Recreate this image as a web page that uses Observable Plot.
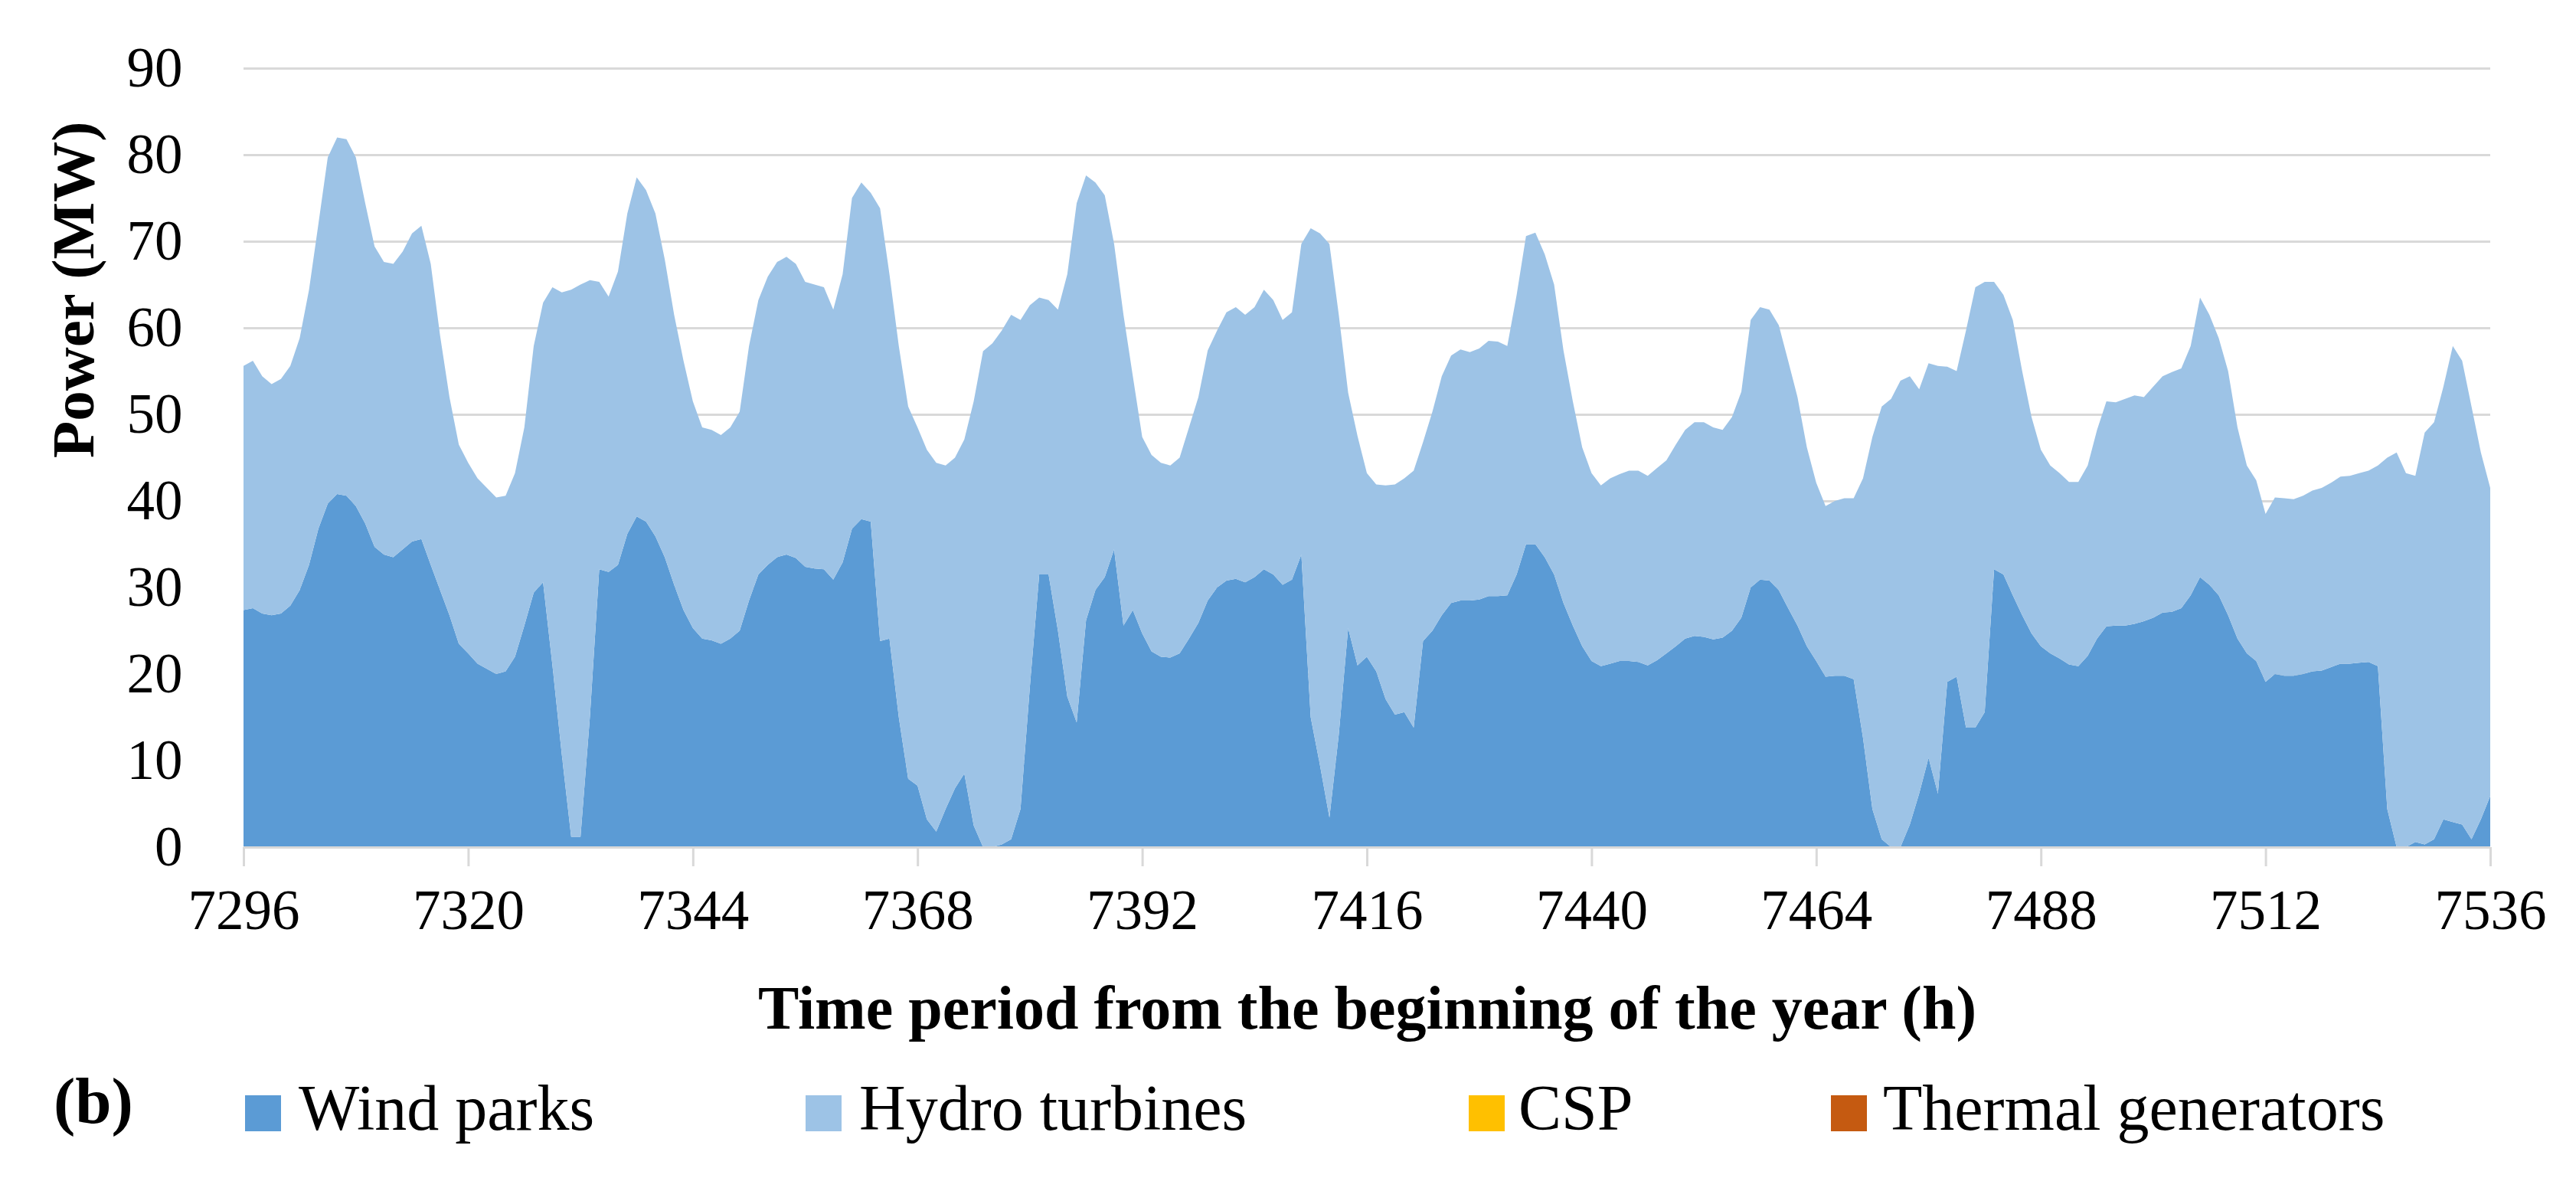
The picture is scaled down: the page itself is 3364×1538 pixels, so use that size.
<!DOCTYPE html>
<html>
<head>
<meta charset="utf-8">
<script src="https://cdn.jsdelivr.net/npm/d3@7"></script>
<script src="https://cdn.jsdelivr.net/npm/@observablehq/plot@0.6"></script>
<style>
  html, body { margin: 0; padding: 0; background: #ffffff; }
  #wrap { position: relative; width: 3364px; height: 1538px; overflow: hidden; background: #fff; font-family: "Liberation Serif", serif; color: #000; }
  #chart { position: absolute; left: 0; top: 0; }
  #legend { position: absolute; left: 0; top: 1400px; width: 3364px; height: 138px; }
  #legend .sw { position: absolute; top: 30px; width: 47px; height: 47px; }
  #legend .lb { position: absolute; top: 5px; font-size: 84px; line-height: 1; white-space: nowrap; }
  #legend .tag { position: absolute; top: -5px; left: 70px; font-size: 85px; line-height: 1; font-weight: bold; }
</style>
</head>
<body>
<div id="wrap">
  <div id="chart"></div>
  <div id="legend"></div>
</div>
<script>
// ---- Data ----
const firstHour = 7296;
const lastHour = 7536;
const xTicks = [7296, 7320, 7344, 7368, 7392, 7416, 7440, 7464, 7488, 7512, 7536];
const yTicks = [0, 10, 20, 30, 40, 50, 60, 70, 80, 90];
const seriesNames = ["Wind parks", "Hydro turbines", "CSP", "Thermal generators"];
const seriesColors = ["#5B9BD5", "#9DC3E6", "#FFC000", "#C55A11"];

// Wind parks power (MW), hourly 7296..7536
const windParks = [
  27.4,27.6,27.0,26.8,27.0,27.9,29.7,32.6,36.8,39.7,40.8,40.6,39.4,37.4,34.7,33.8,33.5,34.4,35.3,35.6,32.6,29.7,26.8,23.5,
  22.4,21.2,20.6,20.0,20.3,22.0,25.6,29.4,30.6,21.0,10.7,1.2,1.2,15.0,32.1,31.8,32.6,36.2,38.2,37.6,35.9,33.5,30.3,27.4,
  25.3,24.1,23.9,23.5,24.1,25.0,28.5,31.5,32.6,33.5,33.8,33.4,32.4,32.2,32.1,30.9,32.9,36.8,37.9,37.6,23.8,24.1,15.0,7.9,
  7.1,3.2,1.8,4.4,6.8,8.5,2.5,0,0,0.3,0.9,4.4,18.5,31.5,31.5,25.0,17.4,14.4,26.2,29.7,31.2,34.4,25.6,27.4,
  24.7,22.6,22.0,21.9,22.4,24.1,25.9,28.5,30.0,30.8,31.0,30.6,31.2,32.1,31.5,30.3,30.9,33.8,15.0,9.4,3.4,13.0,25.3,21.0,
  22.0,20.3,17.1,15.3,15.6,13.8,23.8,25.0,26.8,28.2,28.5,28.5,28.6,29.0,29.0,29.1,31.5,35.0,35.0,33.5,31.5,28.2,25.6,23.2,
  21.5,20.9,21.2,21.5,21.5,21.4,21.0,21.6,22.4,23.2,24.1,24.4,24.3,24.0,24.2,25.0,26.5,30.0,30.9,30.8,29.7,27.6,25.6,23.2,
  21.5,19.7,19.8,19.8,19.4,12.6,4.4,0.9,0,0,2.6,6.2,10.3,6.2,19.1,19.7,13.8,13.8,15.6,32.1,31.5,29.1,26.8,24.7,
  23.2,22.4,21.8,21.1,20.9,22.1,24.1,25.5,25.6,25.6,25.8,26.1,26.5,27.1,27.2,27.6,29.1,31.2,30.3,29.1,26.8,24.1,22.4,21.5,
  19.1,20.0,19.8,19.8,20.0,20.3,20.4,20.8,21.2,21.2,21.3,21.4,20.9,4.4,0,0,0.6,0.3,0.9,3.2,2.9,2.6,0.9,3.2,
  5.9
];

// Hydro turbines power (MW), hourly 7296..7536
const hydroTurbines = [
  28.2,28.6,27.4,26.7,27.1,27.7,29.1,31.8,35.2,40.0,41.2,41.2,40.3,37.0,34.7,33.8,33.9,34.4,35.6,36.2,34.8,29.4,25.2,23.0,
  22.0,21.4,20.9,20.4,20.3,21.2,22.9,28.5,32.3,43.7,53.4,63.2,63.8,50.5,33.2,31.8,33.9,37.0,39.2,38.3,37.3,34.4,31.2,28.8,
  26.2,24.4,24.3,24.1,24.4,25.3,29.4,31.7,33.3,34.1,34.4,34.0,32.9,32.8,32.6,31.2,33.3,38.2,38.9,38.0,50.0,42.1,42.9,43.0,
  41.4,42.7,42.6,39.7,38.2,38.6,49.0,57.3,58.2,59.4,60.6,56.5,44.1,32.0,31.7,37.1,48.8,60.0,51.4,47.1,44.1,35.3,35.9,27.0,
  22.7,22.7,22.4,22.2,22.6,24.4,26.1,28.9,29.7,31.0,31.4,30.9,31.2,32.3,31.7,30.6,30.9,35.9,56.5,61.5,66.3,48.5,27.2,26.5,
  21.2,21.6,24.7,26.6,27.0,29.7,23.0,25.3,27.6,28.6,29.0,28.7,29.0,29.5,29.4,28.8,32.3,35.6,36.0,35.0,33.5,29.2,25.9,23.0,
  21.7,20.9,21.4,21.6,22.0,22.1,21.9,22.2,22.3,23.3,24.1,24.7,24.8,24.5,24.0,24.7,26.1,30.9,31.5,31.3,30.6,28.6,26.4,23.0,
  20.6,19.7,20.2,20.5,20.9,30.0,43.0,50.0,51.8,53.9,51.8,46.7,45.6,49.4,36.4,35.3,45.9,50.9,49.7,33.2,32.3,31.8,28.2,25.0,
  22.7,21.7,21.4,21.1,21.3,22.0,24.1,26.0,25.8,26.2,26.4,25.9,26.7,27.3,27.7,27.7,28.8,32.3,31.2,29.7,28.2,24.4,21.7,20.9,
  19.4,20.4,20.5,20.4,20.6,20.9,21.1,21.3,21.6,21.7,21.9,22.1,23.2,40.6,45.6,43.2,42.3,47.6,48.2,50.0,55.0,53.6,50.0,42.4,
  35.6
];

const yTitle = "Power (MW)";
const xTitle = "Time period from the beginning of the year (h)";
const panelTag = "(b)";

// ---- Build long table ----
const hours = d3.range(firstHour, lastHour + 1);
const rows = [];
hours.forEach((h, i) => rows.push({hour: h, source: seriesNames[0], power: windParks[i]}));
hours.forEach((h, i) => rows.push({hour: h, source: seriesNames[1], power: hydroTurbines[i]}));

const chart = Plot.plot({
  width: 3364,
  height: 1400,
  marginLeft: 318,
  marginRight: 112,
  marginTop: 89,
  marginBottom: 294,
  style: {fontFamily: "'Liberation Serif', serif", fontSize: "73px", color: "#000", background: "#fff", overflow: "visible"},
  x: {domain: [firstHour, lastHour]},
  y: {domain: [0, 90]},
  color: {domain: seriesNames, range: seriesColors},
  marks: [
    Plot.gridY(yTicks, {stroke: "#D9D9D9", strokeWidth: 3, strokeOpacity: 1}),
    Plot.areaY(rows, {x: "hour", y: "power", fill: "source", z: "source"}),
    Plot.ruleY([0], {stroke: "#D9D9D9", strokeWidth: 3}),
    Plot.axisX({ticks: xTicks, tickSize: 25, tickPadding: 30, color: "#D9D9D9", strokeWidth: 3, tickFormat: () => "", label: null}),
    Plot.axisX({ticks: xTicks, tickSize: 0, tickPadding: 55, color: "#000", fontSize: 73, tickFormat: d => String(d), label: null}),
    Plot.axisY({ticks: yTicks, tickSize: 0, tickPadding: 80, color: "#000", fontSize: 73, tickFormat: d => String(d), label: null}),
    Plot.text([yTitle], {frameAnchor: "left", dx: -222, rotate: -90, fontSize: 79, fontWeight: "bold", fill: "#000"}),
    Plot.text([xTitle], {frameAnchor: "bottom", dy: 236, fontSize: 80, fontWeight: "bold", fill: "#000"})
  ]
});
document.getElementById("chart").appendChild(chart);

// ---- Legend (HTML, below the SVG) ----
const legend = document.getElementById("legend");
const tag = document.createElement("div");
tag.className = "tag";
tag.textContent = panelTag;
legend.appendChild(tag);
const swatchLeft = [320, 1052, 1918, 2391];
const labelLeft = [390, 1122, 1983, 2459];
seriesNames.forEach((name, i) => {
  const sw = document.createElement("div");
  sw.className = "sw";
  sw.style.left = swatchLeft[i] + "px";
  sw.style.background = seriesColors[i];
  legend.appendChild(sw);
  const lb = document.createElement("div");
  lb.className = "lb";
  lb.style.left = labelLeft[i] + "px";
  lb.textContent = name;
  legend.appendChild(lb);
});
</script>
</body>
</html>
